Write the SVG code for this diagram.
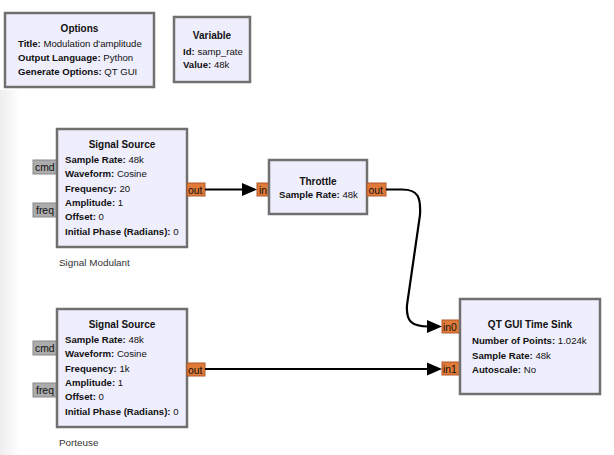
<svg xmlns="http://www.w3.org/2000/svg" width="614" height="455" viewBox="0 0 614 455">
<defs>
<linearGradient id="edge" x1="0" y1="0" x2="1" y2="0">
<stop offset="0" stop-color="#eeeeee"/>
<stop offset="1" stop-color="#ffffff"/>
</linearGradient>
<style>
text{font-family:"Liberation Sans",Arial,sans-serif;font-size:9.6px;fill:#111}
.b{font-weight:bold}
.t{font-weight:bold;font-size:10px;text-anchor:middle}
.blk{fill:#efeefd;stroke:#707070;stroke-width:2.5}
.po{fill:#e07a38;stroke:#b0582a;stroke-width:1}
.pg{fill:#acacac;stroke:#8a8a8a;stroke-width:1}
.pt{font-size:10.4px}
.lbl{font-size:9.9px;fill:#333}
.w{fill:none;stroke:#000;stroke-width:2.2}
.ah{fill:#000}
</style>
</defs>
<rect width="614" height="455" fill="#fff"/>
<rect x="0" y="90" width="20" height="365" fill="url(#edge)"/>

<g id="options">
<rect class="blk" x="5" y="13" width="149" height="74"/>
<text class="t" x="79.5" y="31.5">Options</text>
<text x="18" y="46.5"><tspan class="b">Title:</tspan> Modulation d'amplitude</text>
<text x="18" y="60.5"><tspan class="b">Output Language:</tspan> Python</text>
<text x="18" y="75"><tspan class="b">Generate Options:</tspan> QT GUI</text>
</g>

<g id="variable">
<rect class="blk" x="174" y="17" width="76" height="65"/>
<text class="t" x="212" y="38.5">Variable</text>
<text x="183" y="54.5"><tspan class="b">Id:</tspan> samp_rate</text>
<text x="183" y="67.5"><tspan class="b">Value:</tspan> 48k</text>
</g>

<g id="signal_source_1">
<rect class="pg" x="33" y="160" width="24" height="14"/>
<text class="pt" x="35" y="171">cmd</text>
<rect class="pg" x="33" y="203" width="24" height="14"/>
<text class="pt" x="36" y="214">freq</text>
<rect class="blk" x="57" y="129" width="130" height="118"/>
<text class="t" x="122" y="147.5">Signal Source</text>
<text x="65" y="162.5"><tspan class="b">Sample Rate:</tspan> 48k</text>
<text x="65" y="177"><tspan class="b">Waveform:</tspan> Cosine</text>
<text x="65" y="191.5"><tspan class="b">Frequency:</tspan> 20</text>
<text x="65" y="205.8"><tspan class="b">Amplitude:</tspan> 1</text>
<text x="65" y="220.2"><tspan class="b">Offset:</tspan> 0</text>
<text x="65" y="234.6"><tspan class="b">Initial Phase (Radians):</tspan> 0</text>
<rect class="po" x="187" y="183" width="18" height="13"/>
<text class="pt" x="188" y="193.5">out</text>
<text class="lbl" x="59" y="265.5">Signal Modulant</text>
</g>

<g id="signal_source_2">
<rect class="pg" x="33" y="341" width="24" height="14"/>
<text class="pt" x="35" y="352">cmd</text>
<rect class="pg" x="33" y="383" width="24" height="14"/>
<text class="pt" x="36" y="394">freq</text>
<rect class="blk" x="57" y="309" width="130" height="118"/>
<text class="t" x="122" y="327.5">Signal Source</text>
<text x="65" y="342.5"><tspan class="b">Sample Rate:</tspan> 48k</text>
<text x="65" y="357"><tspan class="b">Waveform:</tspan> Cosine</text>
<text x="65" y="371.5"><tspan class="b">Frequency:</tspan> 1k</text>
<text x="65" y="385.8"><tspan class="b">Amplitude:</tspan> 1</text>
<text x="65" y="400.2"><tspan class="b">Offset:</tspan> 0</text>
<text x="65" y="414.6"><tspan class="b">Initial Phase (Radians):</tspan> 0</text>
<rect class="po" x="187" y="363" width="18" height="13"/>
<text class="pt" x="188" y="373.5">out</text>
<text class="lbl" x="59" y="445.5">Porteuse</text>
</g>

<g id="throttle">
<rect class="po" x="257" y="183" width="12" height="13"/>
<text class="pt" x="259" y="193.5">in</text>
<rect class="blk" x="269" y="160" width="98" height="54"/>
<text class="t" x="318" y="184.5">Throttle</text>
<text x="279" y="197.8"><tspan class="b">Sample Rate:</tspan> 48k</text>
<rect class="po" x="367" y="183" width="19" height="13"/>
<text class="pt" x="368.5" y="193.5">out</text>
</g>

<g id="qt_gui_time_sink">
<rect class="po" x="442" y="320" width="18" height="13"/>
<text class="pt" x="443" y="330.5">in0</text>
<rect class="po" x="442" y="362" width="18" height="13"/>
<text class="pt" x="443" y="372.5">in1</text>
<rect class="blk" x="460" y="299" width="140" height="95"/>
<text class="t" x="530" y="327.5">QT GUI Time Sink</text>
<text x="472" y="344"><tspan class="b">Number of Points:</tspan> 1.024k</text>
<text x="472" y="358.5"><tspan class="b">Sample Rate:</tspan> 48k</text>
<text x="472" y="373"><tspan class="b">Autoscale:</tspan> No</text>
</g>

<g id="connectors">
<path class="w" d="M205,189.5 H243"/>
<polygon class="ah" points="242,183 257,189.5 242,196"/>
<path class="w" d="M386,189.5 H402 C418,189.5 421,197 420,215 L407,305 C406,321 411,326.5 429,326.5"/>
<polygon class="ah" points="427,320 442,326.5 427,333"/>
<path class="w" d="M205,369 H428"/>
<polygon class="ah" points="427,362.5 442,369 427,375.5"/>
</g>
</svg>
